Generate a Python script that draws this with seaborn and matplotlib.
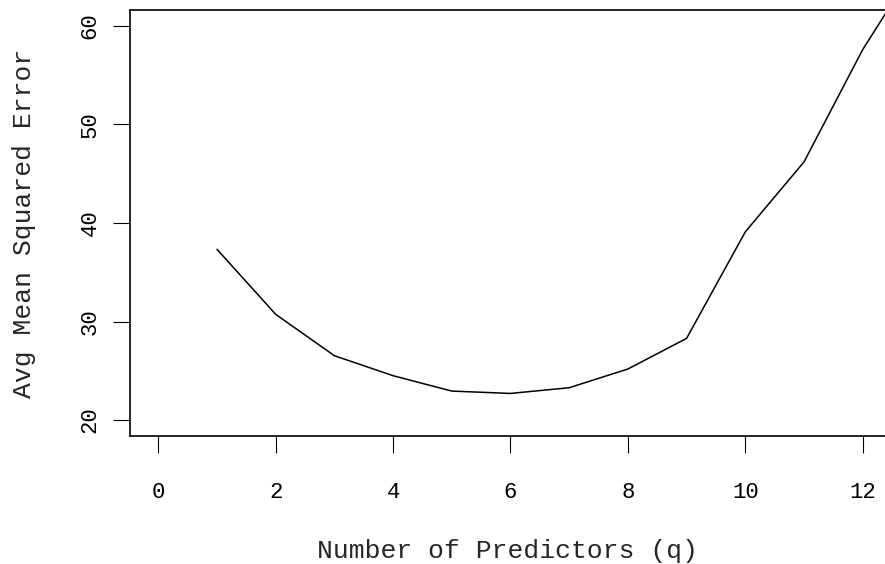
import matplotlib
matplotlib.use("Agg")
import matplotlib.pyplot as plt
import seaborn as sns
import pandas as pd

# Data
q = [1, 2, 3, 4, 5, 6, 7, 8, 9, 10, 11, 12, 13]
avg_mse = [37.33, 30.73, 26.53, 24.50, 22.94, 22.70, 23.28, 25.18, 28.29, 39.10, 46.20, 57.60, 67.00]
x_ticks = [0, 2, 4, 6, 8, 10, 12]
y_ticks = [20, 30, 40, 50, 60]
x_label = "Number of Predictors (q)"
y_label = "Avg Mean Squared Error"

df = pd.DataFrame({"q": q, "mse": avg_mse})

sns.set_style("ticks")
plt.rcParams["font.family"] = ["Liberation Mono", "DejaVu Sans Mono"]

W, H = 885, 564
fig = plt.figure(figsize=(W / 100, H / 100), dpi=100)
left, right, top, bottom = 130, 887, 10, 436
ax = fig.add_axes([left / W, (H - bottom) / H, (right - left) / W, (bottom - top) / H])

sns.lineplot(data=df, x="q", y="mse", ax=ax, color="black", linewidth=1.1)

ax.set_xlim(-0.482, 12.414)
ax.set_ylim(18.38, 61.62)
ax.set_xticks(x_ticks)
ax.set_yticks(y_ticks)
ax.set_xticklabels([str(t) for t in x_ticks])
ax.set_yticklabels([str(t) for t in y_ticks], rotation=90, va="center")

for s in ax.spines.values():
    s.set_linewidth(1.2)
    s.set_color("black")
ax.spines["right"].set_visible(False)

ax.tick_params(axis="both", length=12.2, width=0.8, labelsize=16, direction="out", colors="black")
ax.tick_params(axis="x", pad=21)
ax.tick_params(axis="y", pad=9)

ax.set_xlabel(x_label, fontsize=19)
ax.set_ylabel(y_label, fontsize=19)
ax.xaxis.label.set_va("center")
ax.yaxis.label.set_va("center")
ax.xaxis.set_label_coords((507.5 - left) / (right - left), (bottom - 551) / (bottom - top))
ax.yaxis.set_label_coords((24 - left) / (right - left), 0.5)

fig.savefig("out.png", dpi=100)
